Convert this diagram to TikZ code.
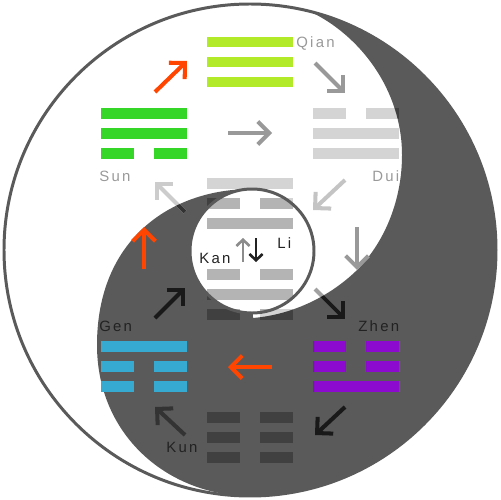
\documentclass[tikz,border=0pt]{standalone}
\usepackage{fontspec}
\newfontfamily\guafont[LetterSpace=15]{Liberation Sans}
\usetikzlibrary{arrows.meta,calc}

\definecolor{yindark}{RGB}{90,90,90}
\definecolor{qiancol}{RGB}{178,234,42}
\definecolor{suncol}{RGB}{54,214,40}
\definecolor{gencol}{RGB}{54,170,208}
\definecolor{zhencol}{RGB}{140,10,208}
\definecolor{fire}{RGB}{255,69,0}
\definecolor{ash}{RGB}{153,153,153}
\definecolor{ink}{RGB}{34,34,34}
\definecolor{palebar}{RGB}{212,212,212}
\definecolor{midbar}{RGB}{180,180,180}
\definecolor{deepbar}{RGB}{64,64,64}

\tikzset{
  arr/.style={line width=2.3pt,-{Straight Barb[length=6.5pt,width=13pt]}},
  tiny arr/.style={line width=1.5pt,-{Straight Barb[length=3.5pt,width=7.5pt]}},
  gua/.style={font=\guafont\fontsize{8.5}{10}\selectfont,inner sep=0pt,anchor=base west},
}

% bars of one trigram, top line first: 1 = whole, 0 = broken
\newcommand{\bars}[3]{%
  \foreach \lin [count=\i from 0] in {#3}{
    \ifnum\lin=1
      \fill[#2] ($(#1)+(-43,-25.5+20*\i)$) rectangle ++(86,10.5);
    \else
      \fill[#2] ($(#1)+(-43,-25.5+20*\i)$) rectangle ++(33,10.5);
      \fill[#2] ($(#1)+(10,-25.5+20*\i)$) rectangle ++(33,10.5);
    \fi
  }}

% the dark half
\def\yinpath{(309.5,11.3) arc[start angle=-76,end angle=92.3,radius=246]
  .. controls (160,490) and (97,430) .. (97,345)
  .. controls (97,240) and (170,189) .. (252,189)
  -- (253,318)
  .. controls (300,314) and (338,290) .. (360,267)
  .. controls (385,240) and (402,200) .. (402,155)
  .. controls (402,90) and (360,35) .. (309.5,11.3)
  -- cycle}

\begin{document}
\begin{tikzpicture}[x=0.02cm,y=-0.02cm]
  \useasboundingbox (0,0) rectangle (500,500);
  \coordinate (centre) at (250,250);
  \coordinate (eye) at (252,251);
  \coordinate (qian) at (250,62.5);
  \coordinate (sun) at (144,133.5);
  \coordinate (dui) at (356,133.5);
  \coordinate (li) at (250,203.5);
  \coordinate (kan) at (250,294.5);
  \coordinate (gen) at (144,366.5);
  \coordinate (zhen) at (356,366.5);
  \coordinate (kun) at (250,437.5);
  \foreach \n/\s/\e in {sq/{155,92}/{187,61}, qd/{315,63}/{345,93}, sd/{228,133}/{272,133},
      dl/{345,180}/{313,210}, ls/{185,212}/{155,182}, gs/{144,269}/{144,227},
      ku/{243,262}/{243,238}, ld/{256,238}/{256,262}, dz/{357,227}/{357,270},
      kz/{315,289}/{345,319}, gk/{155,318}/{185,288}, zg/{272,367}/{228,367},
      zk/{345,407}/{315,435}, kg/{185,435}/{155,407}}
    {\coordinate (\n0) at (\s); \coordinate (\n1) at (\e);}

  \fill[yindark] \yinpath;
  \fill[white] (eye) circle[radius=62];

  % grey trigrams and arrows, pale on white
  \bars{dui}{palebar}{0,1,1}
  \bars{li}{palebar}{1,0,1}
  \bars{kan}{palebar}{0,1,0}
  \bars{kun}{palebar}{0,0,0}
  \draw[arr,black!20] (ls0) -- (ls1);
  \draw[arr,black!37] (kz0) -- (kz1);
  % ... deep on dark
  \begin{scope}
    \clip \yinpath;
    \bars{dui}{deepbar}{0,1,1}
    \bars{li}{deepbar}{1,0,1}
    \bars{kan}{deepbar}{0,1,0}
    \bars{kun}{deepbar}{0,0,0}
    \draw[arr,black!80] (ls0) -- (ls1);
    \draw[arr,black!90] (kz0) -- (kz1);
  \end{scope}
  % ... and mid grey in the eye
  \begin{scope}
    \clip (eye) circle[radius=62];
    \bars{li}{midbar}{1,0,1}
    \bars{kan}{midbar}{0,1,0}
  \end{scope}
  \draw[yindark,line width=1.7pt] (eye) circle[radius=62];

  \bars{qian}{qiancol}{1,1,1}
  \bars{sun}{suncol}{1,1,0}
  \bars{gen}{gencol}{1,0,0}
  \bars{zhen}{zhencol}{0,0,1}

  \draw[arr,fire] (sq0) -- (sq1);
  \draw[arr,ash] (qd0) -- (qd1);
  \draw[arr,ash] (sd0) -- (sd1);
  \draw[arr,black!23] (dl0) -- (dl1);
  \draw[arr,fire] (gs0) -- (gs1);
  \draw[tiny arr,black!45] (ku0) -- (ku1);
  \draw[tiny arr,ink] (ld0) -- (ld1);
  \draw[arr,ash] (dz0) -- (dz1);
  \draw[arr,black!90] (gk0) -- (gk1);
  \draw[arr,fire] (zg0) -- (zg1);
  \draw[arr,black!90] (zk0) -- (zk1);
  \draw[arr,black!80] (kg0) -- (kg1);

  \draw[yindark,line width=1.7pt] (centre) circle[radius=246];

  \node[gua,text=ash] (qianlbl) at (296,48) {Qian};
  \node[gua,text=ash] (sunlbl) at (99,181) {Sun};
  \node[gua,text=ash] (duilbl) at (372,181) {Dui};
  \node[gua,text=ink] (lilbl) at (277,248) {Li};
  \node[gua,text=ink] (kanlbl) at (199,263) {Kan};
  \node[gua,text=ink] (genlbl) at (99,331) {Gen};
  \node[gua,text=ink] (zhenlbl) at (358,331) {Zhen};
  \node[gua,text=ink] (kunlbl) at (166,452) {Kun};
\end{tikzpicture}
\end{document}
